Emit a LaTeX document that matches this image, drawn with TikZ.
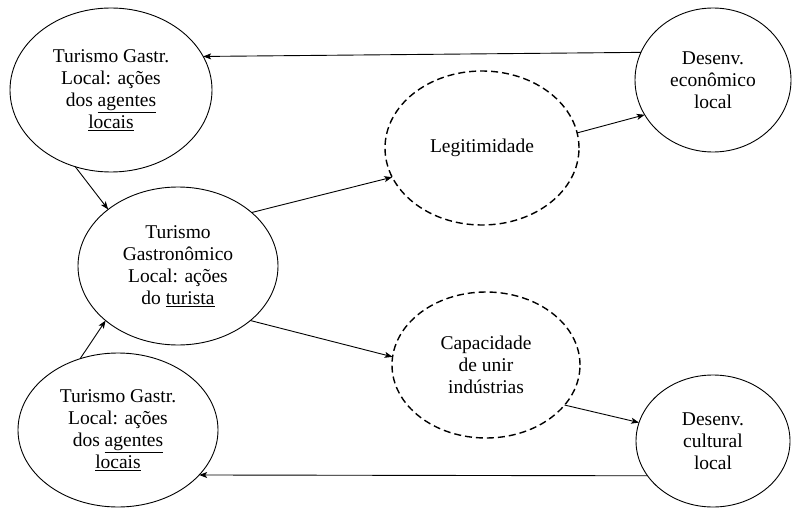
\documentclass[tikz,border=0pt]{standalone}
\usepackage{fontspec}
\setmainfont{Liberation Serif}
\newfontfamily\bubblefont{Liberation Serif}
\usetikzlibrary{shapes.geometric,arrows.meta}
\begin{document}
\begin{tikzpicture}[x=1pt,y=-1pt,
  bubble/.style={ellipse,draw,line width=0.9pt,inner sep=0pt,outer sep=0pt,
    align=center,font=\bubblefont\fontsize{19.5}{22}\selectfont},
  dashbubble/.style={bubble,line width=1.4pt,dash pattern=on 7pt off 4pt},
  link/.style={line width=0.9pt,-{Stealth[length=8pt,width=6pt,inset=2pt]}}]
\useasboundingbox (0,0) rectangle (792,508);

% actors (left column)
\node[bubble,minimum width=202pt,minimum height=164pt] (tl) at (111,90)
  {Turismo Gastr.\\Local: ações\\dos \underline{agentes}\\\underline{locais}};
\node[bubble,minimum width=200pt,minimum height=158pt] (c) at (178,266)
  {Turismo\\Gastronômico\\Local: ações\\do \underline{turista}};
\node[bubble,minimum width=200pt,minimum height=154pt] (bl) at (118,430)
  {Turismo Gastr.\\Local: ações\\dos \underline{agentes}\\\underline{locais}};

% mediating effects
\node[dashbubble,minimum width=194pt,minimum height=154pt] (leg) at (482,148)
  {Legitimidade};
\node[dashbubble,minimum width=188pt,minimum height=146pt] (cap) at (486,365)
  {Capacidade\\de unir\\indústrias};

% outcomes
\node[bubble,minimum width=156pt,minimum height=144pt] (tr) at (713,80)
  {Desenv.\\econômico\\local};
\node[bubble,minimum width=154pt,minimum height=132pt] (br) at (713,441)
  {Desenv.\\cultural\\local};

% connectors
\draw[link] (tr.159) -- (tl.20);
\draw[link] (tl.-115) -- (c.141);
\draw[link] (bl.118) -- (c.217);
\draw[link] (c.36) -- (leg.198);
\draw[link] (c.-37) -- (cap.175);
\draw[link] (leg.9) -- (tr.207);
\draw[link] (cap.-27) -- (br.166);
\draw[link] (br.208) -- (bl.-29);
\end{tikzpicture}
\end{document}
